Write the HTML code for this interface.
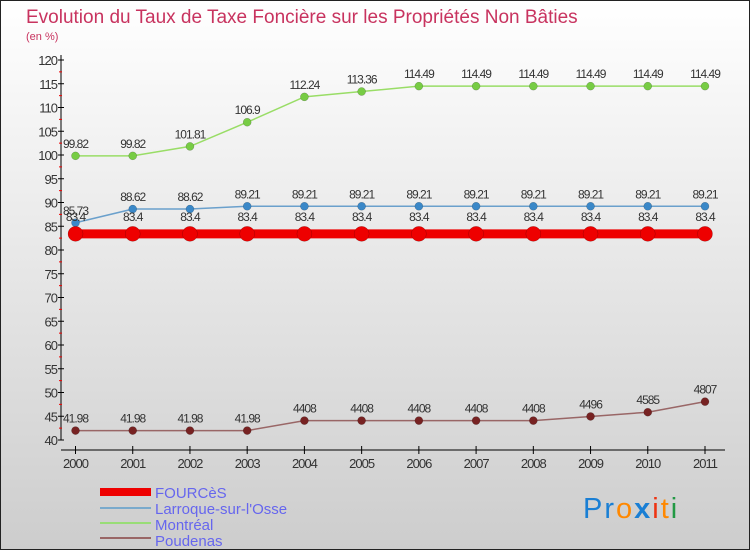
<!DOCTYPE html>
<html><head><meta charset="utf-8"><style>
body{margin:0;}
#c{width:750px;height:550px;position:relative;overflow:hidden;font-family:"Liberation Sans",sans-serif;}
</style></head><body>
<div id="c">
<svg id="s" width="750" height="550" xmlns="http://www.w3.org/2000/svg">
<defs><linearGradient id="bg" x1="0" y1="0" x2="0" y2="1"><stop offset="0" stop-color="#ffffff"/><stop offset="1" stop-color="#cdcdcd"/></linearGradient></defs>
<rect x="0.5" y="0.5" width="749" height="549" fill="url(#bg)" stroke="#222"/>
<text x="26" y="23" font-size="19" fill="#c8335f">Evolution du Taux de Taxe Foncière sur les Propriétés Non Bâties</text>
<text x="26" y="40" font-size="11" fill="#c8335f">(en %)</text>
<g id="axes"></g><g id="series"></g>
<g>
<rect x="100" y="488" width="51" height="8" fill="#ee0000"/>
<text x="155" y="498" font-size="15" fill="#6666ee">FOURCèS</text>
<rect x="100" y="507" width="51" height="2" fill="#7aaacc"/>
<text x="155" y="514" font-size="15" fill="#6666ee">Larroque-sur-l'Osse</text>
<rect x="100" y="522" width="51" height="2" fill="#99dd77"/>
<text x="155" y="530" font-size="15" fill="#6666ee">Montréal</text>
<rect x="100" y="537" width="51" height="2" fill="#996666"/>
<text x="155" y="546" font-size="15" fill="#6666ee">Poudenas</text>
</g>
<text x="583" y="518" font-size="29" letter-spacing="2"><tspan fill="#1a7fd4">Pr</tspan><tspan fill="#ff8800">o</tspan><tspan fill="#1a7fd4" font-weight="bold">x</tspan><tspan fill="#ee3311">i</tspan><tspan fill="#ff8800">t</tspan><tspan fill="#229944">i</tspan></text>
</svg>
</div>
<script>
const years=[2000,2001,2002,2003,2004,2005,2006,2007,2008,2009,2010,2011];
const yTicks=[40,45,50,55,60,65,70,75,80,85,90,95,100,105,110,115,120];
const fources=[83.4,83.4,83.4,83.4,83.4,83.4,83.4,83.4,83.4,83.4,83.4,83.4];
const larroque=[85.73,88.62,88.62,89.21,89.21,89.21,89.21,89.21,89.21,89.21,89.21,89.21];
const montreal=[99.82,99.82,101.81,106.9,112.24,113.36,114.49,114.49,114.49,114.49,114.49,114.49];
const poudenas=[41.98,41.98,41.98,41.98,44.08,44.08,44.08,44.08,44.08,44.96,45.85,48.07];
const labFources=["83.4","83.4","83.4","83.4","83.4","83.4","83.4","83.4","83.4","83.4","83.4","83.4"];
const labLarroque=["85.73","88.62","88.62","89.21","89.21","89.21","89.21","89.21","89.21","89.21","89.21","89.21"];
const labMontreal=["99.82","99.82","101.81","106.9","112.24","113.36","114.49","114.49","114.49","114.49","114.49","114.49"];
const labPoudenas=["41.98","41.98","41.98","41.98","4408","4408","4408","4408","4408","4496","4585","4807"];
const NS="http://www.w3.org/2000/svg";
const X=i=>75.5+i*(705-75.5)/11;
const Y=v=>440-(v-40)*(380/80);
function mk(t,a,p){const e=document.createElementNS(NS,t);for(const k in a)e.setAttribute(k,a[k]);p.appendChild(e);return e;}
const ax=document.getElementById('axes');
let l=mk('line',{x1:61,y1:55,x2:61,y2:440,stroke:'#000'},ax);


l=mk('line',{x1:61,y1:450,x2:725,y2:450,stroke:'#000'},ax);


yTicks.forEach((v,i)=>{
 mk('line',{x1:58,y1:Y(v),x2:64,y2:Y(v),stroke:'#000'},ax);
 if(i<yTicks.length-1) mk('line',{x1:59,y1:Y(v+2.5),x2:62,y2:Y(v+2.5),stroke:'#e00'},ax);
 const t=mk('text',{x:57,y:Y(v)+5,'font-size':13,'text-anchor':'end',fill:'#333','letter-spacing':'-1'},ax);
 t.textContent=v;
 
 
});
years.forEach((y,i)=>{
 mk('line',{x1:X(i),y1:446,x2:X(i),y2:454,stroke:'#000'},ax);
 const t=mk('text',{x:X(i),y:468,'font-size':13,'text-anchor':'middle',fill:'#333','letter-spacing':'-1'},ax);
 t.textContent=y;
 
 
});
const sg=document.getElementById('series');
function series(name,vals,labs,color,dot,w,r,dy){
 const g=mk('g',{},sg);
 
 
 const p=mk('polyline',{points:vals.map((v,i)=>X(i)+','+Y(v)).join(' '),fill:'none',stroke:color,'stroke-width':w},g);
 
 
 vals.forEach((v,i)=>{
  const c=mk('circle',{cx:X(i),cy:Y(v),r:r,fill:dot,stroke:'rgba(0,0,0,0.3)','stroke-width':0.5},g);
  
  
  const t=mk('text',{x:X(i),y:Y(v)+dy,'font-size':12,'text-anchor':'middle',fill:'#333','letter-spacing':'-1'},g);
  t.textContent=labs[i];
  
  
 });
}
series('montreal',montreal,labMontreal,'#99dd66','#77cc44',1.5,4,-8);
series('larroque',larroque,labLarroque,'#6aa0cc','#3a88c8',1.5,4,-8);
series('fources',fources,labFources,'#ee0000','#ee0000',9,7.5,-13);
series('poudenas',poudenas,labPoudenas,'#996666','#772222',1.5,4,-8);
</script>
</body></html>
